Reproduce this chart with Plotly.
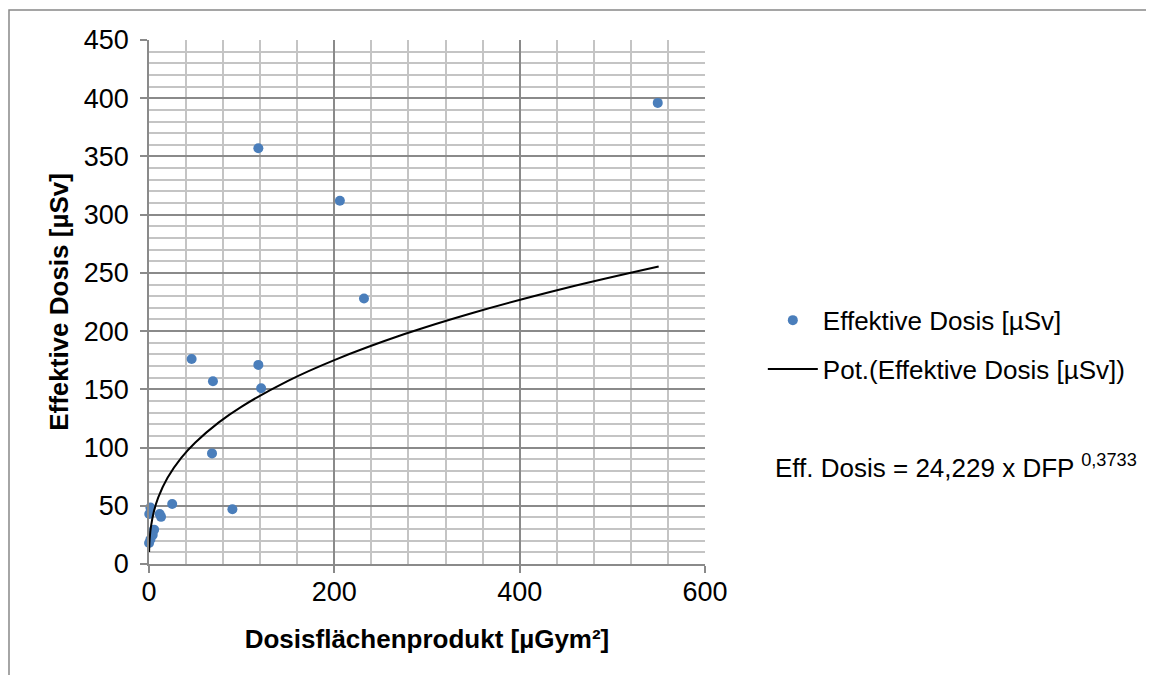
import plotly.graph_objects as go

# Measured points (Dosisflächenprodukt, Effektive Dosis)
dfp = [0.1, 1.5, 4, 5.5, 0.3, 1.5, 11.5, 13, 25, 46, 68, 69, 90, 118, 118, 121, 206, 232, 549]
dose = [18, 21, 25, 29.5, 43, 48.5, 43, 40.5, 51.5, 176, 95, 157, 47, 357, 171, 151, 312, 228, 396]

# Power trendline as drawn (Eff. Dosis = 24,229 x DFP^0,3733)
trend_x = [0.1, 0.5, 1, 2, 5, 10, 20, 35, 50, 75, 100, 150, 200, 275, 350, 450, 550]
trend_y = [10.26, 18.70, 24.23, 31.39, 44.19, 57.23, 74.13, 91.35, 104.37, 121.42,
           135.19, 157.28, 175.11, 197.25, 215.82, 237.03, 255.47]

x_ticks = [0, 200, 400, 600]
y_ticks = [0, 50, 100, 150, 200, 250, 300, 350, 400, 450]

FONT = "Arial, Liberation Sans, sans-serif"
MAJOR = "#8a8a8a"
MINOR = "#c4c4c4"

fig = go.Figure()
fig.add_trace(go.Scatter(
    x=dfp, y=dose, mode="markers", name="Effektive Dosis [µSv]",
    marker=dict(color="#4a7ebb", size=10), cliponaxis=False,
    legendgroup="a",
))
fig.add_trace(go.Scatter(
    x=trend_x, y=trend_y, mode="lines", name="Pot.(Effektive Dosis [µSv])",
    line=dict(color="black", width=2, shape="spline"),
    legendgroup="b",
))

fig.update_layout(
    width=1146, height=667,
    margin=dict(l=141, r=449, t=32, b=111),
    plot_bgcolor="white", paper_bgcolor="white",
    font=dict(family=FONT, size=26, color="black"),
    showlegend=True,
    legend=dict(x=1.104, y=0.51, xanchor="left", yanchor="top",
                itemwidth=50, traceorder="grouped", tracegroupgap=12,
                font=dict(size=26), bgcolor="rgba(0,0,0,0)"),
    xaxis=dict(
        range=[0, 600], tickvals=x_ticks, showgrid=True, gridcolor=MAJOR, gridwidth=1.5,
        minor=dict(dtick=40, showgrid=True, gridcolor=MINOR, gridwidth=1.5),
        showline=True, linecolor=MAJOR, linewidth=1.5, zeroline=False,
        ticks="outside", ticklen=7, tickcolor=MAJOR, tickwidth=1.5,
        ticklabelstandoff=-4, tickfont=dict(size=27),
        title=dict(text="<b>Dosisflächenprodukt [µGym²]</b>", font=dict(size=26), standoff=24),
    ),
    yaxis=dict(
        range=[0, 450], tickvals=y_ticks, showgrid=True, gridcolor=MAJOR, gridwidth=1.5,
        minor=dict(dtick=10, showgrid=True, gridcolor=MINOR, gridwidth=1.5),
        showline=True, linecolor=MAJOR, linewidth=1.5, zeroline=False,
        ticks="outside", ticklen=7, tickcolor=MAJOR, tickwidth=1.5,
        ticklabelstandoff=6, tickfont=dict(size=27),
        title=dict(text="<b>Effektive Dosis [µSv]</b>", font=dict(size=26), standoff=8),
    ),
    shapes=[dict(type="rect", xref="paper", yref="paper",
                 x0=-0.2518, x1=1.95, y0=-0.5, y1=1.0573,
                 line=dict(color="#888888", width=1.5), layer="below")],
    annotations=[dict(
        xref="paper", yref="paper", x=1.122, y=0.187, xanchor="left", yanchor="middle",
        text="Eff. Dosis = 24,229 x DFP <sup>0,3733</sup>", showarrow=False,
        font=dict(size=26, color="black"),
    )],
)

fig.write_html("out.html")
